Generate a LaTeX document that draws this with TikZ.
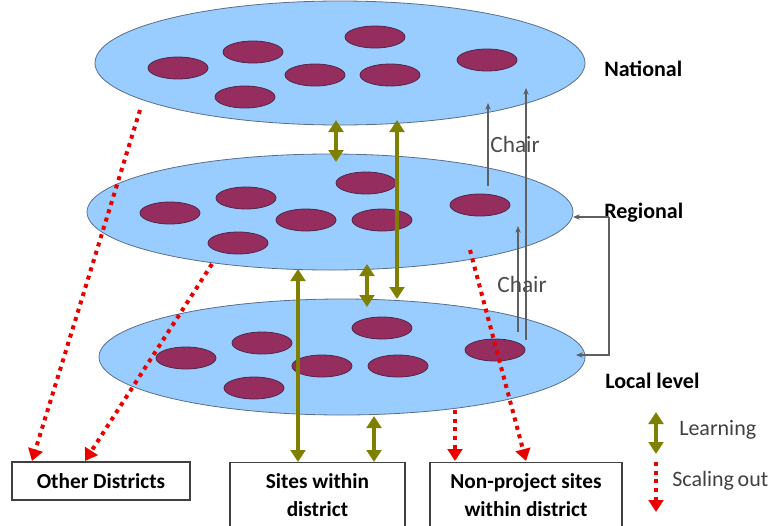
\documentclass[tikz,border=0pt]{standalone}
\usepackage{fontspec}
\setmainfont{Carlito}
\usetikzlibrary{shapes.geometric,arrows.meta}
\definecolor{layerblue}{RGB}{153,204,255}
\definecolor{layeredge}{RGB}{90,110,140}
\definecolor{dotpurple}{RGB}{150,45,95}
\definecolor{dotedge}{RGB}{80,40,70}
\definecolor{olivec}{RGB}{128,128,0}
\definecolor{redc}{RGB}{235,0,0}
\definecolor{chairgray}{RGB}{95,95,95}
\tikzset{
  layer/.style={ellipse, draw=layeredge, line width=0.6pt, fill=layerblue, inner sep=0pt, minimum width=486*0.75pt, minimum height=118*0.75pt},
  dot/.style={ellipse, draw=dotedge, line width=0.6pt, fill=dotpurple, inner sep=0pt, minimum width=60*0.75pt, minimum height=22*0.75pt},
  learn/.style={draw=olivec, line width=2.6pt, {Triangle[width=11pt,length=9pt]}-{Triangle[width=11pt,length=9pt]}},
  scaleout/.style={draw=redc, line width=3pt, dash pattern=on 3pt off 3.5pt, -{Triangle[width=11pt,length=9pt]}},
  chair/.style={draw=chairgray, line width=0.8pt, -{Stealth[length=5pt,width=4pt]}},
  levellabel/.style={font=\bfseries\fontsize{16.5}{18}\selectfont, anchor=west, inner sep=0pt},
  box/.style={draw=black!75, line width=0.8pt, fill=white, align=center, font=\bfseries\fontsize{16}{21}\selectfont, inner sep=0pt},
  legendtxt/.style={text=black!75, font=\fontsize{16.5}{18}\selectfont, anchor=west, inner sep=0pt},
  chairtxt/.style={text=black!70, font=\fontsize{17.5}{18}\selectfont, inner sep=0pt}
}
\begin{document}
\begin{tikzpicture}[x=0.75pt,y=-0.75pt]
\useasboundingbox (0,0) rectangle (774,525);
\clip (0,0) rectangle (774,525);
% layers
\node[layer, minimum width=490*0.75pt, minimum height=124*0.75pt] (nat) at (340,63) {};
\node[layer, minimum height=116*0.75pt] (reg) at (330,212) {};
\node[layer, minimum height=116*0.75pt] (loc) at (342,357) {};
% national dots
\node[dot] (n1) at (178,68) {};
\node[dot] (n2) at (253,52) {};
\node[dot] (n3) at (375,37) {};
\node[dot] (n4) at (315,75) {};
\node[dot] (n5) at (390,75) {};
\node[dot] (n6) at (487,60) {};
\node[dot] (n7) at (245,97) {};
% regional dots
\node[dot] (r1) at (170,213) {};
\node[dot] (r2) at (246,198) {};
\node[dot] (r3) at (366,183) {};
\node[dot] (r4) at (306,220) {};
\node[dot] (r5) at (382,220) {};
\node[dot] (r6) at (480,205) {};
\node[dot] (r7) at (238,243) {};
% local dots
\node[dot] (l1) at (186,358) {};
\node[dot] (l2) at (262,343) {};
\node[dot] (l3) at (382,328) {};
\node[dot] (l4) at (322,366) {};
\node[dot] (l5) at (398,366) {};
\node[dot] (l6) at (495,350) {};
\node[dot] (l7) at (254,388) {};
% labels
\node[levellabel] (labnat) at (604,69) {National};
\node[levellabel] (labreg) at (604,213) {Regional};
\node[levellabel] (labloc) at (605,381) {Local level};
% boxes
\node[box, minimum width=178*0.75pt, minimum height=38*0.75pt] (other) at (101,481) {Other Districts};
\node[box, minimum width=175*0.75pt, minimum height=66*0.75pt, anchor=north] (sites) at (317.5,462) {Sites within\\district};
\node[box, minimum width=192*0.75pt, minimum height=66*0.75pt, anchor=north] (nonp) at (526,462) {Non-project sites\\within district};
% chair arrows
\coordinate (c1s) at (488,186);
\coordinate (c1e) at (488,103);
\coordinate (c2s) at (526,340);
\coordinate (c2e) at (526,88);
\coordinate (c3s) at (518,332);
\coordinate (c3e) at (518,226);
\draw[chair] (c1s) -- (c1e);
\draw[chair] (c2s) -- (c2e);
\draw[chair] (c3s) -- (c3e);
\node[chairtxt] (ch1) at (515,144) {Chair};
\node[chairtxt] (ch2) at (522,284) {Chair};
% bracket from Regional label
\coordinate (bk1) at (609,217);
\coordinate (bk2) at (609,355);
\coordinate (regtip) at (573,217);
\coordinate (loctip) at (576,355);
\draw[chairgray, line width=0.8pt, -{Stealth[length=5pt,width=4pt]}] (bk1) -- (regtip);
\draw[chairgray, line width=0.8pt, -{Stealth[length=5pt,width=4pt]}] (bk1) -- (bk2) -- (loctip);
% learning arrows
\coordinate (a1t) at (336,120);
\coordinate (a1b) at (336,162);
\coordinate (a2t) at (397,120);
\coordinate (a2b) at (397,299);
\coordinate (a3t) at (367,264);
\coordinate (a3b) at (367,307);
\coordinate (a4t) at (298,269);
\coordinate (a5t) at (374,416);
\draw[learn] (a1t) -- (a1b);
\draw[learn] (a2t) -- (a2b);
\draw[learn] (a3t) -- (a3b);
\draw[learn] (a4t) -- (a4t |- sites.north);
\draw[learn] (a5t) -- (a5t |- sites.north);
% scaling arrows
\coordinate (s1) at (140,110);
\coordinate (s2) at (212,264);
\coordinate (s3) at (455,410);
\coordinate (s4) at (470,250);
\draw[scaleout] (s1) -- (32,461);
\draw[scaleout] (s2) -- (85,461);
\draw[scaleout] (s3) -- (455,461);
\draw[scaleout] (s4) -- (526,461);
% legend
\coordinate (lg1) at (656,412);
\coordinate (lg2) at (656,454);
\coordinate (lg3) at (656,462);
\coordinate (lg4) at (656,512);
\draw[learn] (lg1) -- (lg2);
\draw[scaleout] (lg3) -- (lg4);
\node[legendtxt] (ltl) at (679,430) {Learning};
\node[legendtxt] (lts) at (672,481) {Scaling\,out};
\end{tikzpicture}
\end{document}
